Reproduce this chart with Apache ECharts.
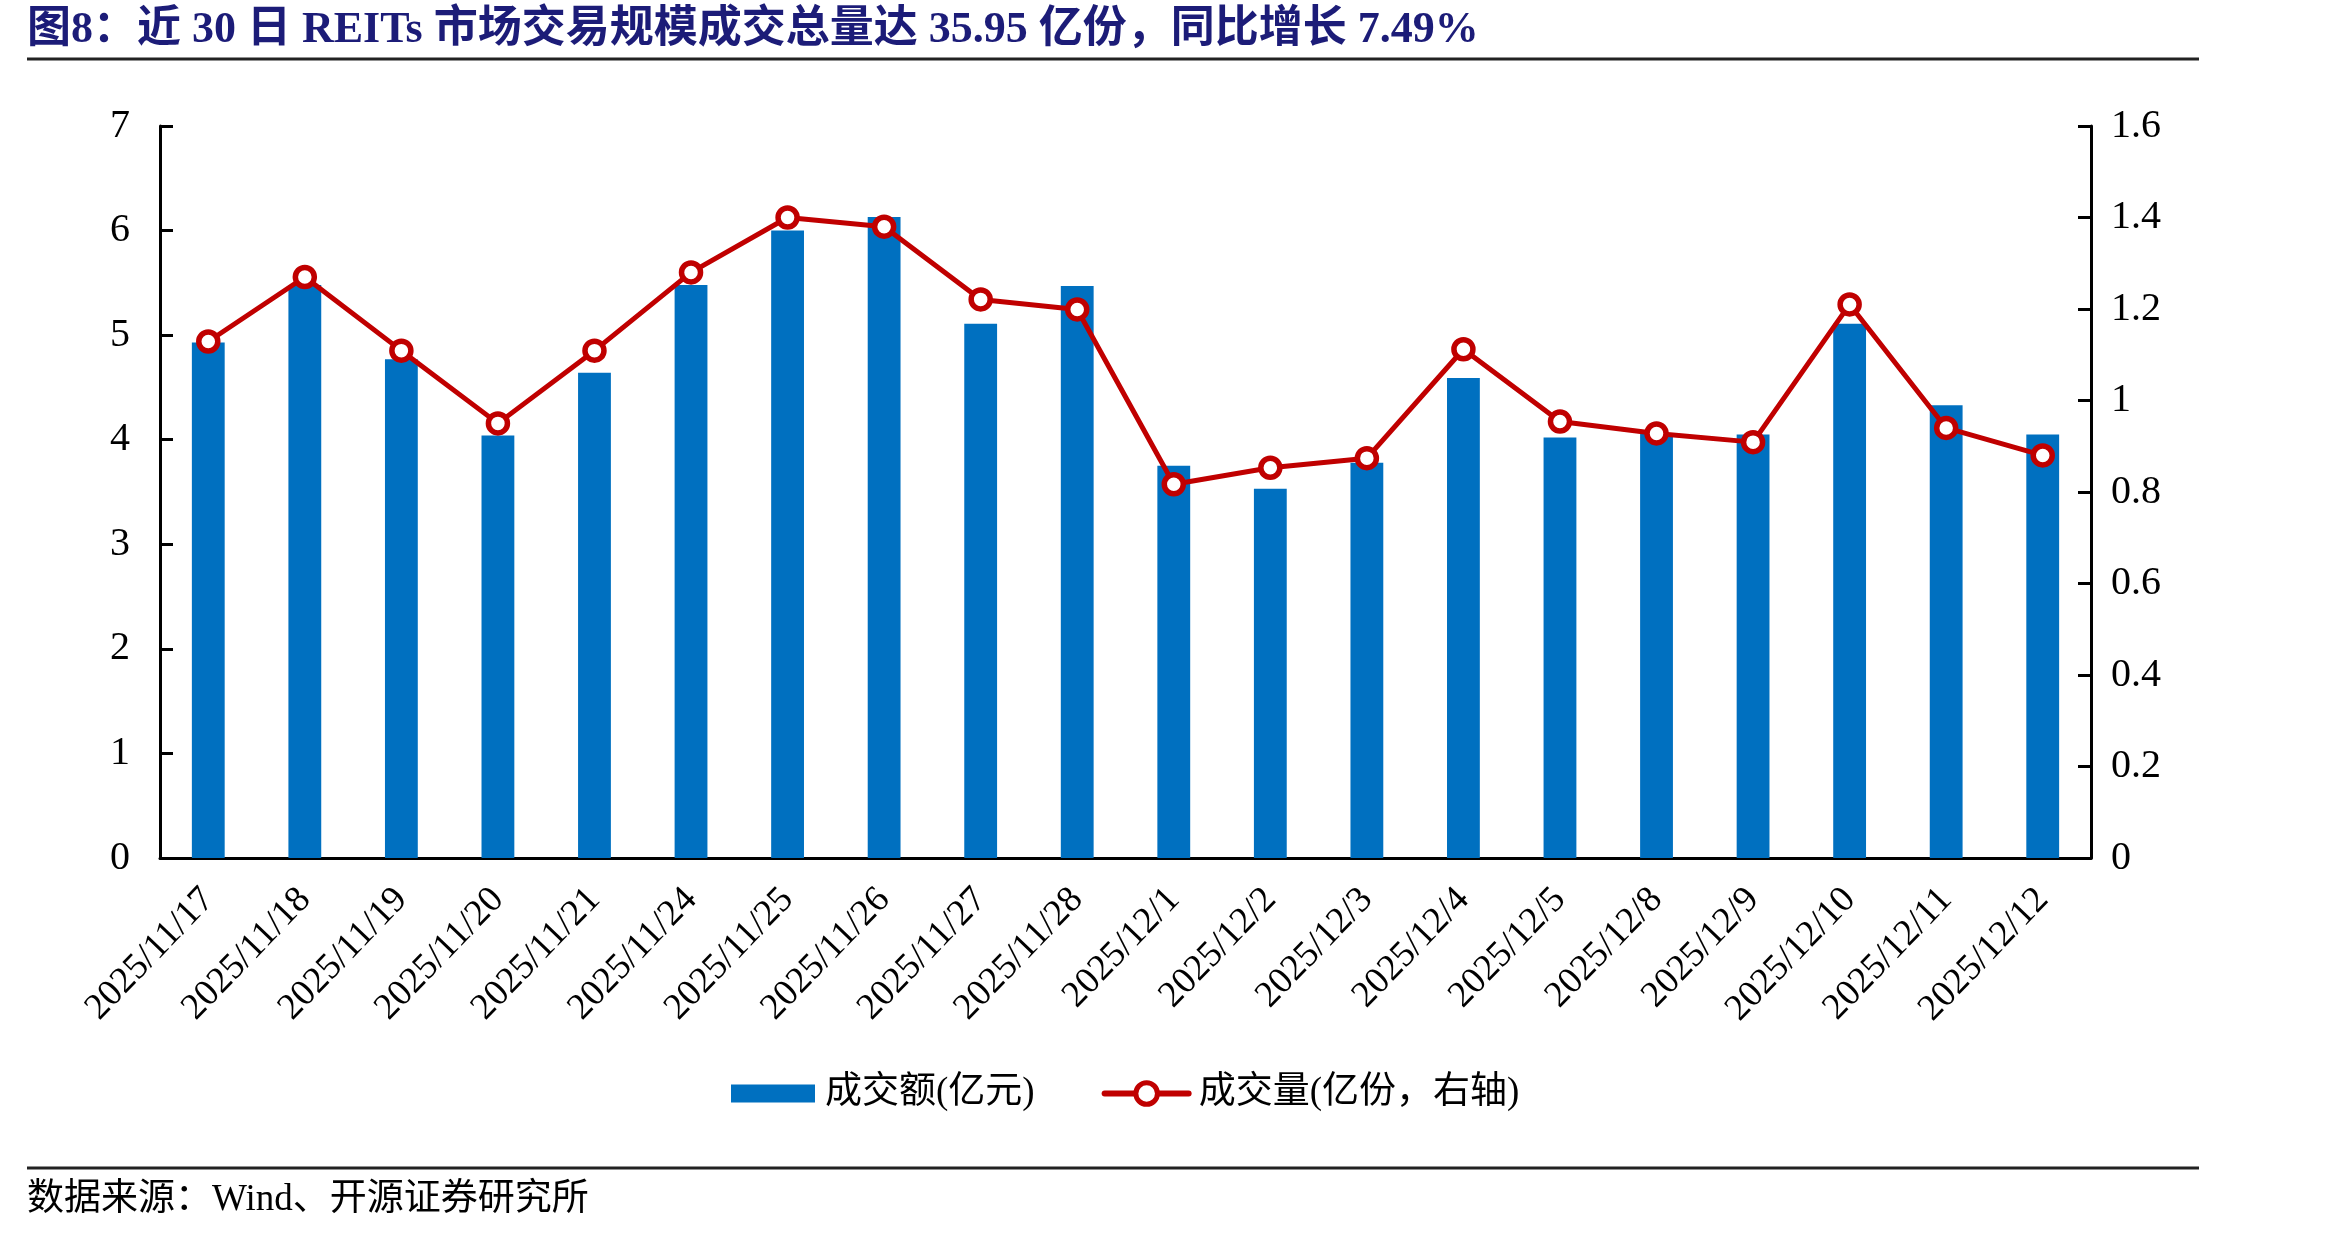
<!DOCTYPE html>
<html>
<head>
<meta charset="utf-8">
<script src="https://cdn.jsdelivr.net/npm/echarts@6/dist/echarts.min.js"></script>
<style>
html,body{margin:0;padding:0;background:#fff;}
#chart{width:2327px;height:1233px;}
</style>
</head>
<body>
<div id="chart"></div>
<script>
const categories = ['2025/11/17','2025/11/18','2025/11/19','2025/11/20','2025/11/21','2025/11/24','2025/11/25','2025/11/26','2025/11/27','2025/11/28','2025/12/1','2025/12/2','2025/12/3','2025/12/4','2025/12/5','2025/12/8','2025/12/9','2025/12/10','2025/12/11','2025/12/12'];
const turnoverAmount = [4.93,5.48,4.77,4.04,4.64,5.48,6.00,6.13,5.11,5.47,3.75,3.53,3.78,4.59,4.02,4.06,4.05,5.11,4.33,4.05];
const turnoverVolume = [1.129,1.270,1.109,0.950,1.109,1.280,1.400,1.380,1.221,1.199,0.817,0.853,0.874,1.112,0.954,0.928,0.909,1.210,0.940,0.880];
const leftAxis = {min:0, max:7, interval:1};
const rightAxis = {min:0, max:1.6, interval:0.2};
const titleText = '图8：近 30 日 REITs 市场交易规模成交总量达 35.95 亿份，同比增长 7.49%';
const sourceText = '数据来源：Wind、开源证券研究所';
const seriesNames = ['成交额(亿元)','成交量(亿份，右轴)'];

const serif = '"Liberation Serif","Times New Roman","Noto Sans CJK SC",serif';
const cjk = '"Liberation Serif","Noto Sans CJK SC",sans-serif';
const chart = echarts.init(document.getElementById('chart'));
chart.setOption({
  animation:false,
  backgroundColor:'#fff',
  graphic:[
    {type:'text', left:27, top:9, style:{text:titleText, font:'bold 44px "Liberation Serif","Noto Sans CJK SC",serif', fill:'#1C1C78'}},
    {type:'line', shape:{x1:27,y1:59,x2:2199,y2:59}, style:{stroke:'#222',lineWidth:3}},
    {type:'line', shape:{x1:27,y1:1168,x2:2199,y2:1168}, style:{stroke:'#222',lineWidth:3}},
    {type:'text', left:27, top:1182, style:{text:sourceText, font:'37px "Liberation Serif","Noto Sans CJK SC",serif', fill:'#000'}}
  ],
  legend:{
    left:726, top:1070,
    itemWidth:84, itemHeight:27, itemGap:67,
    symbolKeepAspect:true,
    textStyle:{fontSize:37, fontFamily:cjk, color:'#000', padding:[0,0,0,5]},
    data:[
      {name:seriesNames[0], icon:'path://M0 0H84V18H0Z'},
      {name:seriesNames[1], lineStyle:{width:6, color:'#C00000', cap:'round'},
       itemStyle:{color:'#fff', borderColor:'#C00000', borderWidth:5}}
    ]
  },
  grid:{left:160, right:236, top:126, bottom:375, containLabel:false},
  xAxis:{
    type:'category', data:categories, boundaryGap:true,
    axisLine:{lineStyle:{color:'#000', width:3}},
    axisTick:{inside:true, length:13, lineStyle:{color:'#000', width:3}, alignWithLabel:false},
    axisLabel:{interval:0, rotate:46, margin:36, fontSize:37, fontFamily:serif, color:'#000'}
  },
  yAxis:[
    {type:'value', min:leftAxis.min, max:leftAxis.max, interval:leftAxis.interval, splitLine:{show:false},
     axisLine:{show:true, lineStyle:{color:'#000', width:3}},
     axisTick:{show:true, inside:true, length:13, lineStyle:{color:'#000', width:3}},
     axisLabel:{fontSize:40, fontFamily:serif, color:'#000', margin:30}},
    {type:'value', min:rightAxis.min, max:rightAxis.max, interval:rightAxis.interval, splitLine:{show:false},
     axisLine:{show:true, lineStyle:{color:'#000', width:3}},
     axisTick:{show:true, inside:true, length:13, lineStyle:{color:'#000', width:3}},
     axisLabel:{fontSize:40, fontFamily:serif, color:'#000', margin:20,
       formatter:function(v){return String(Math.round(v*10)/10);}}}
  ],
  series:[
    {name:seriesNames[0], type:'bar', data:turnoverAmount, yAxisIndex:0, barWidth:'34%',
     itemStyle:{color:'#0070C0'}},
    {name:seriesNames[1], type:'line', data:turnoverVolume, yAxisIndex:1, z:5,
     symbol:'circle', symbolSize:19, showAllSymbol:true,
     lineStyle:{color:'#C00000', width:5},
     itemStyle:{color:'#fff', borderColor:'#C00000', borderWidth:5.5}}
  ]
});
</script>
</body>
</html>
